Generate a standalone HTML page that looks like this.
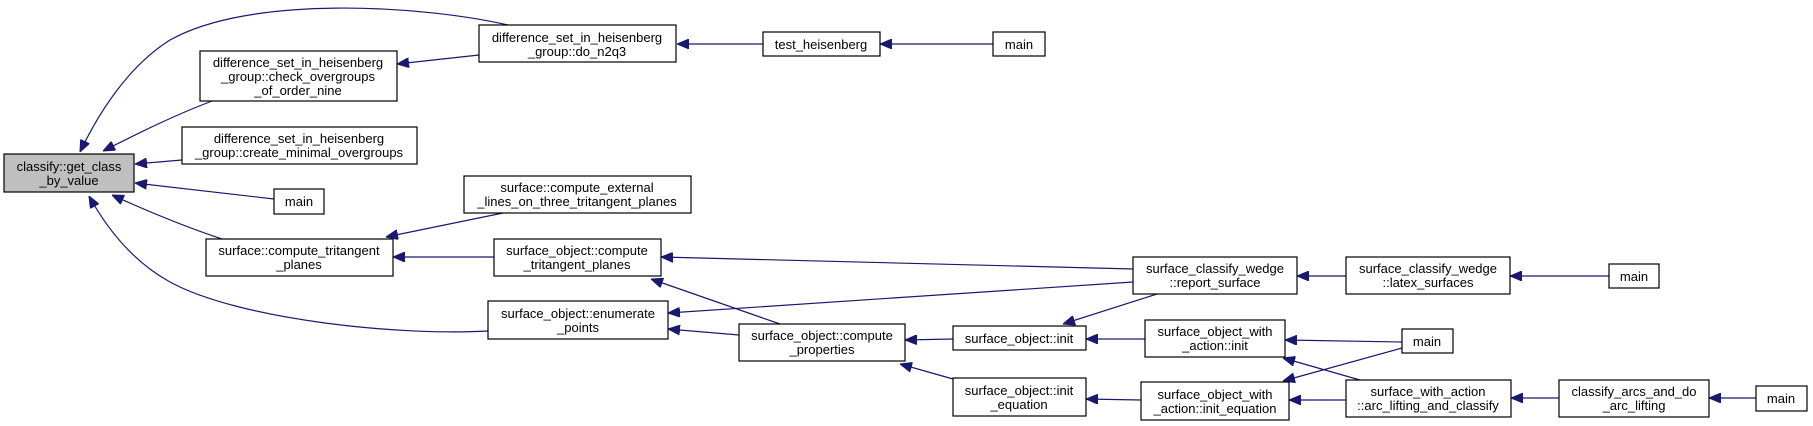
<!DOCTYPE html>
<html><head><meta charset="utf-8"><style>
html,body{margin:0;padding:0;background:#fff;}
svg{display:block;}
text{font-family:"Liberation Sans",sans-serif;font-size:13px;fill:#000;text-anchor:middle;}
rect{fill:#fff;stroke:#000;stroke-width:1.2;}
path{fill:none;stroke:#191970;stroke-width:1.2;}
</style></head><body>
<svg width="1813" height="426" viewBox="0 0 1813 426" xmlns="http://www.w3.org/2000/svg">
<defs><marker id="a" viewBox="0 0 12 10" refX="12" refY="5" markerWidth="12" markerHeight="10" markerUnits="userSpaceOnUse" orient="auto"><polygon points="0,0 12,5 0,10" fill="#191970" stroke="#191970"/></marker></defs>
<g marker-end="url(#a)">
<path d="M508,25 C420,5 250,-5 170,40 C130,65 100,110 80,152"/>
<path d="M212,101 C170,117 135,135 103,151"/>
<path d="M182,160 L135,164"/>
<path d="M274,199 L135,183"/>
<path d="M222,239 C180,225 145,210 112,195"/>
<path d="M488,331 C400,336 240,320 170,282 C130,260 105,225 89,196"/>
<path d="M479,55 L397,64"/>
<path d="M763,44 L677,44"/>
<path d="M993,44 L880,44"/>
<path d="M503,213 L386,237"/>
<path d="M494,257 L393,257"/>
<path d="M1133,269 L661,257"/>
<path d="M780,324 L651,279"/>
<path d="M1133,282 L668,313"/>
<path d="M739,335 L668,329"/>
<path d="M953,339 L905,340"/>
<path d="M953,379 L900,364"/>
<path d="M1157,294 L1063,324"/>
<path d="M1145,339 L1086,339"/>
<path d="M1141,400 L1086,399"/>
<path d="M1402,342 L1285,340"/>
<path d="M1402,348 L1283,381"/>
<path d="M1360,380 L1283,358"/>
<path d="M1346,400 L1289,400"/>
<path d="M1346,276 L1297,276"/>
<path d="M1609,276 L1510,276"/>
<path d="M1559,398 L1511,398"/>
<path d="M1756,398 L1709,398"/>
</g>
<rect x="4" y="154" width="130" height="38" style="fill:#bfbfbf"/>
<text x="69" y="171">classify::get_class</text><text x="69" y="185">_by_value</text>
<rect x="200" y="51" width="197" height="50"/>
<text x="298" y="67">difference_set_in_heisenberg</text><text x="298" y="81">_group::check_overgroups</text><text x="298" y="95">_of_order_nine</text>
<rect x="182" y="127" width="235" height="37"/>
<text x="299" y="143">difference_set_in_heisenberg</text><text x="299" y="157">_group::create_minimal_overgroups</text>
<rect x="274" y="189" width="50" height="25"/><text x="299" y="206">main</text>
<rect x="206" y="239" width="187" height="37"/>
<text x="299" y="255">surface::compute_tritangent</text><text x="299" y="269">_planes</text>
<rect x="479" y="25" width="197" height="37"/>
<text x="577" y="42">difference_set_in_heisenberg</text><text x="577" y="56">_group::do_n2q3</text>
<rect x="464" y="176" width="227" height="37"/>
<text x="577" y="192">surface::compute_external</text><text x="577" y="206">_lines_on_three_tritangent_planes</text>
<rect x="494" y="239" width="167" height="37"/>
<text x="577" y="255">surface_object::compute</text><text x="577" y="269">_tritangent_planes</text>
<rect x="488" y="301" width="180" height="38"/>
<text x="578" y="318">surface_object::enumerate</text><text x="578" y="332">_points</text>
<rect x="763" y="32" width="117" height="24"/><text x="821" y="49">test_heisenberg</text>
<rect x="993" y="32" width="52" height="24"/><text x="1019" y="49">main</text>
<rect x="739" y="324" width="166" height="37"/>
<text x="822" y="340">surface_object::compute</text><text x="822" y="354">_properties</text>
<rect x="953" y="326" width="133" height="24"/><text x="1019" y="343">surface_object::init</text>
<rect x="953" y="378" width="133" height="38"/>
<text x="1019" y="395">surface_object::init</text><text x="1019" y="409">_equation</text>
<rect x="1133" y="257" width="164" height="37"/>
<text x="1215" y="273">surface_classify_wedge</text><text x="1215" y="287">::report_surface</text>
<rect x="1145" y="320" width="140" height="37"/>
<text x="1215" y="336">surface_object_with</text><text x="1215" y="350">_action::init</text>
<rect x="1141" y="382" width="148" height="38"/>
<text x="1215" y="399">surface_object_with</text><text x="1215" y="413">_action::init_equation</text>
<rect x="1346" y="257" width="164" height="37"/>
<text x="1428" y="273">surface_classify_wedge</text><text x="1428" y="287">::latex_surfaces</text>
<rect x="1609" y="264" width="50" height="24"/><text x="1634" y="281">main</text>
<rect x="1402" y="329" width="51" height="24"/><text x="1427" y="346">main</text>
<rect x="1346" y="380" width="165" height="37"/>
<text x="1428" y="396">surface_with_action</text><text x="1428" y="410">::arc_lifting_and_classify</text>
<rect x="1559" y="380" width="150" height="37"/>
<text x="1634" y="396">classify_arcs_and_do</text><text x="1634" y="410">_arc_lifting</text>
<rect x="1756" y="386" width="51" height="25"/><text x="1781" y="403">main</text>
</svg>
</body></html>
